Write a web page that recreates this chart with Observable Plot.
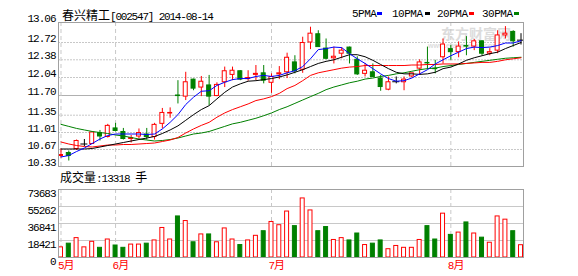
<!DOCTYPE html>
<html><head><meta charset="utf-8">
<script src="https://cdn.jsdelivr.net/npm/d3@7"></script>
<script src="https://cdn.jsdelivr.net/npm/@observablehq/plot@0.6"></script>
<style>
body{margin:0;background:#fff;}
#wrap{position:relative;width:578px;height:276px;overflow:hidden;font-family:"Liberation Mono","Noto Sans CJK SC",monospace;}
.t{position:absolute;white-space:nowrap;font-size:11px;line-height:12px;color:#000;}
.cjk{font-family:"Noto Sans CJK SC";font-size:12px;letter-spacing:0;}
.sq{position:absolute;width:5px;height:3px;}
.wm{position:absolute;white-space:nowrap;color:#dcdcdc;font-family:"Noto Sans CJK SC";font-weight:bold;}
#wrap svg{position:absolute;left:0;}
</style></head><body><div id="wrap"></div>
<script>
const dates = ["2014-05-22","2014-05-23","2014-05-26","2014-05-27","2014-05-28","2014-05-29","2014-05-30",
"2014-06-03","2014-06-04","2014-06-05","2014-06-06","2014-06-09","2014-06-10","2014-06-11","2014-06-12","2014-06-13",
"2014-06-16","2014-06-17","2014-06-18","2014-06-19","2014-06-20","2014-06-23","2014-06-24","2014-06-25","2014-06-26","2014-06-27","2014-06-30",
"2014-07-01","2014-07-02","2014-07-03","2014-07-04","2014-07-07","2014-07-08","2014-07-09","2014-07-10","2014-07-11",
"2014-07-14","2014-07-15","2014-07-16","2014-07-17","2014-07-18","2014-07-21","2014-07-22","2014-07-23","2014-07-24","2014-07-25",
"2014-07-28","2014-07-29","2014-07-30","2014-07-31",
"2014-08-01","2014-08-04","2014-08-05","2014-08-06","2014-08-07","2014-08-08","2014-08-11","2014-08-12","2014-08-13","2014-08-14"];
const open = [10.54,10.60,10.68,10.78,10.78,11.00,10.92,11.09,11.02,10.88,
10.93,10.97,10.92,11.18,11.38,11.70,11.68,12.00,11.85,11.89,
11.69,11.95,12.09,12.16,12.01,12.09,12.12,11.94,12.10,12.14,
12.33,12.19,12.72,12.86,12.60,12.41,12.50,12.62,12.38,12.11,
12.14,12.02,11.81,11.96,11.95,12.06,12.21,12.32,12.21,12.43,
12.59,12.53,12.65,12.64,12.74,12.50,12.56,12.84,12.90,12.76];
const high = [10.68,10.64,10.86,10.87,11.03,11.05,11.17,11.19,11.09,10.95,
11.08,11.09,11.19,11.47,11.48,11.98,12.14,12.01,12.06,12.08,
11.94,12.24,12.24,12.17,12.17,12.27,12.27,12.11,12.25,12.51,
12.46,12.81,12.98,12.92,12.78,12.63,12.62,12.63,12.44,12.31,
12.30,12.08,12.05,12.05,12.05,12.12,12.38,12.63,12.37,12.78,
12.66,12.73,12.82,12.77,12.75,12.60,12.92,12.99,12.92,12.87];
const low = [10.50,10.44,10.65,10.73,10.77,10.84,10.90,11.02,10.86,10.80,
10.88,10.86,10.86,11.08,11.29,11.55,11.61,11.79,11.68,11.52,
11.68,11.85,11.98,11.98,11.97,11.98,11.92,11.74,12.00,12.02,
12.11,12.12,12.58,12.63,12.38,12.30,12.40,12.30,12.08,12.05,
12.05,11.78,11.79,11.92,11.79,12.03,12.08,12.19,12.11,12.30,
12.37,12.42,12.46,12.56,12.46,12.46,12.50,12.78,12.63,12.67];
const close = [10.56,10.54,10.84,10.78,11.01,10.93,11.14,11.04,10.88,10.90,
11.00,10.92,11.16,11.39,11.39,11.69,11.95,11.83,11.96,11.68,
11.90,12.16,12.17,12.00,12.03,12.11,11.98,12.05,12.12,12.42,
12.16,12.71,12.87,12.63,12.40,12.44,12.56,12.50,12.10,12.17,
12.05,11.86,11.95,11.96,12.00,12.12,12.33,12.31,12.20,12.68,
12.53,12.64,12.64,12.74,12.50,12.53,12.84,12.87,12.74,12.76];
const ma5 = [10.52,10.55,10.63,10.70,10.79,10.88,10.95,10.98,10.98,10.98,
10.98,10.97,10.98,11.08,11.21,11.36,11.54,11.67,11.78,11.79,
11.89,11.95,12.00,12.02,12.02,12.06,12.08,12.06,12.08,12.13,
12.17,12.25,12.40,12.58,12.60,12.63,12.62,12.50,12.40,12.31,
12.21,12.11,12.02,11.97,11.98,12.03,12.11,12.19,12.30,12.38,
12.46,12.53,12.60,12.63,12.62,12.63,12.66,12.71,12.71,12.75];
const ma10 = [10.68,10.68,10.68,10.68,10.69,10.72,10.75,10.78,10.81,10.84,
10.87,10.90,10.93,10.99,11.06,11.14,11.25,11.36,11.45,11.52,
11.64,11.76,11.86,11.92,11.97,11.98,12.00,12.02,12.05,12.09,
12.14,12.19,12.25,12.31,12.35,12.38,12.43,12.48,12.48,12.44,
12.37,12.29,12.21,12.14,12.11,12.11,12.10,12.11,12.14,12.21,
12.24,12.30,12.37,12.42,12.46,12.50,12.53,12.60,12.66,12.72];
const ma20 = [10.82,10.78,10.75,10.73,10.72,10.74,10.76,10.76,10.77,10.77,
10.78,10.79,10.80,10.83,10.86,10.91,11.00,11.08,11.15,11.21,
11.31,11.39,11.45,11.50,11.55,11.61,11.64,11.68,11.74,11.83,
11.89,11.98,12.08,12.13,12.16,12.19,12.22,12.24,12.25,12.27,
12.27,12.27,12.27,12.27,12.27,12.28,12.28,12.29,12.29,12.30,
12.30,12.30,12.31,12.32,12.33,12.33,12.35,12.38,12.40,12.42];
const ma30 = [11.17,11.13,11.09,11.06,11.03,11.01,10.99,10.96,10.94,10.91,
10.88,10.86,10.84,10.85,10.87,10.90,10.94,10.98,11.00,11.03,
11.08,11.13,11.18,11.21,11.25,11.29,11.34,11.39,11.45,11.50,
11.56,11.62,11.68,11.74,11.81,11.86,11.90,11.94,11.97,12.01,
12.03,12.06,12.08,12.11,12.13,12.16,12.19,12.21,12.22,12.25,
12.27,12.29,12.31,12.33,12.35,12.37,12.39,12.41,12.42,12.43];
const vol = [11000,15000,21000,11000,17000,10500,19500,13000,10500,14000,
14000,15000,18500,32000,19500,44500,39500,16500,25000,25000,
16500,31500,19500,13500,18500,23500,28500,38500,35000,49800,
34000,64000,51000,28500,33000,19000,21000,18500,26000,13500,
15000,18500,9000,12500,10500,10500,19000,34000,19500,47500,
24500,27000,38000,26000,21500,16000,44500,41000,28500,13318];
const priceTicks = [10.33,10.67,11.01,11.35,11.70,12.04,12.38,12.72,13.06];
const volTicks = [0,18421,36841,55262,73683];
const monthStarts = ["2014-05-22","2014-06-03","2014-07-01","2014-08-01"];
const monthLabels = ["5月","6月","7月","8月"];
const stockName = "春兴精工", stockCode = "[002547] 2014-08-14";
const volTitle = ["成交量", ":13318 ", "手"];
const legend = [["5PMA","#0000ff"],["10PMA","#000000"],["20PMA","#ff0000"],["30PMA","#008000"]];

const RED = "#ff0000", GREEN = "#008000", BLUE = "#0000ff";
const data = dates.map((d,i)=>({date:d, open:open[i], high:high[i], low:low[i], close:close[i], vol:vol[i],
  ma5:ma5[i], ma10:ma10[i], ma20:ma20[i], ma30:ma30[i]}));
const candleColor = d => d.close > d.open ? RED : d.close < d.open ? GREEN : "#000000";
const volColor = d => d.close >= d.open ? RED : GREEN;

const wrap = document.getElementById("wrap");
function addText(html, left, top, extra) {
  const el = document.createElement("div");
  el.className = "t"; el.innerHTML = html;
  el.style.left = left + "px"; el.style.top = top + "px";
  if (extra) Object.assign(el.style, extra);
  wrap.appendChild(el); return el;
}
// watermark (behind the charts)
const wm = document.createElement("div"); wm.className = "wm";
Object.assign(wm.style, {left: "441px", top: "26px", fontSize: "14px", lineHeight: "14px"});
wm.textContent = "东方财富网";
wrap.appendChild(wm);
const wm2 = document.createElement("div"); wm2.className = "wm";
Object.assign(wm2.style, {left: "428px", top: "42px", fontSize: "7px", lineHeight: "7px", fontFamily: "Liberation Sans"});
wm2.textContent = "www.eastmoney.com"; wrap.appendChild(wm2);

const fontStyle = {fontFamily: '"Liberation Mono","Noto Sans CJK SC",monospace', fontSize: "11px", letterSpacing: "-1px", background: "transparent", overflow: "visible"};
const xScale = {type: "band", domain: dates, paddingInner: 0.36, paddingOuter: 0, label: null};

const main = Plot.plot({
  width: 578, height: 170, marginLeft: 58, marginRight: 55, marginTop: 22, marginBottom: 4,
  style: fontStyle,
  x: {...xScale, axis: null},
  y: {type: "linear", domain: priceTicks, range: [166,149,132,114.7,95,77,59.3,42,22], label: null},
  color: {type: "identity"},
  marks: [
    Plot.ruleY(priceTicks.filter(v => v !== 11.70 && v !== 10.33 && v !== 13.06), {y: d => d, stroke: "#c8c8c8", strokeDasharray: "2,1"}),
    Plot.ruleY([11.70], {y: d => d, stroke: "#b0b0b0"}),
    Plot.ruleX(monthStarts, {x: d => d, stroke: "#c8c8c8", strokeDasharray: "4,3"}),
    Plot.ruleX(data, {x: "date", y1: "low", y2: "high", stroke: candleColor}),
    Plot.barY(data.filter(d => d.close !== d.open), {x: "date", y1: "open", y2: "close",
      fill: d => d.close > d.open ? "#ffffff" : GREEN, stroke: candleColor, insetLeft: 0.5, insetRight: 0.5}),
    Plot.tickY(data.filter(d => d.close === d.open), {x: "date", y: "close", stroke: "#000000", insetLeft: -1, insetRight: -1}),
    Plot.lineY(data, {x: "date", y: "ma30", stroke: GREEN, strokeWidth: 1}),
    Plot.lineY(data, {x: "date", y: "ma20", stroke: RED, strokeWidth: 1}),
    Plot.lineY(data, {x: "date", y: "ma10", stroke: "#000000", strokeWidth: 1}),
    Plot.lineY(data, {x: "date", y: "ma5", stroke: BLUE, strokeWidth: 1}),
    Plot.frame({stroke: "#a0a0a0"}),
    Plot.axisY({ticks: priceTicks, tickSize: 0, tickPadding: 3, dy: -4, tickFormat: d => d.toFixed(2), label: null})
  ]
});
main.style.top = "0px";
wrap.appendChild(main);

const volChart = Plot.plot({
  width: 578, height: 106, marginLeft: 58, marginRight: 55, marginTop: 19, marginBottom: 19,
  style: fontStyle,
  x: xScale,
  y: {domain: [0, 73683], label: null},
  color: {type: "identity"},
  marks: [
    Plot.ruleY(volTicks.slice(1, -1), {y: d => d, stroke: "#c8c8c8"}),
    Plot.ruleX(monthStarts, {x: d => d, stroke: "#c8c8c8", strokeDasharray: "4,3"}),
    Plot.barY(data, {x: "date", y: "vol", fill: d => volColor(d) === RED ? "#ffffff" : GREEN, stroke: volColor, insetLeft: 0.5, insetRight: 0.5}),
    Plot.frame({stroke: "#a0a0a0"}),
    Plot.axisY({ticks: volTicks, tickSize: 0, tickPadding: 3, dy: 3.5, label: null, tickFormat: d => String(d)}),
    Plot.axisX(monthStarts, {tickSize: 0, tickPadding: 4, textAnchor: "start", dx: -3, fill: RED, fontSize: 11,
      tickFormat: d => monthLabels[monthStarts.indexOf(d)], label: null})
  ]
});
volChart.style.top = "170px";
wrap.appendChild(volChart);

// title and legend
addText('<span class="cjk">' + stockName + '</span>' + stockCode, 62, 9, {letterSpacing: "-1.2px"});
const lx = [352, 392, 437, 482], sx = [377, 425, 469, 514];
legend.forEach(([name, c], i) => {
  addText(name, lx[i], 8, {letterSpacing: "-0.5px"});
  const s = document.createElement("div"); s.className = "sq";
  s.style.left = sx[i] + "px"; s.style.top = "12px"; s.style.background = c;
  wrap.appendChild(s);
});
addText('<span class="cjk">' + volTitle[0] + '</span>' + volTitle[1] + '<span class="cjk">' + volTitle[2] + '</span>', 60, 171, {letterSpacing: "-1px"});
</script></body></html>
